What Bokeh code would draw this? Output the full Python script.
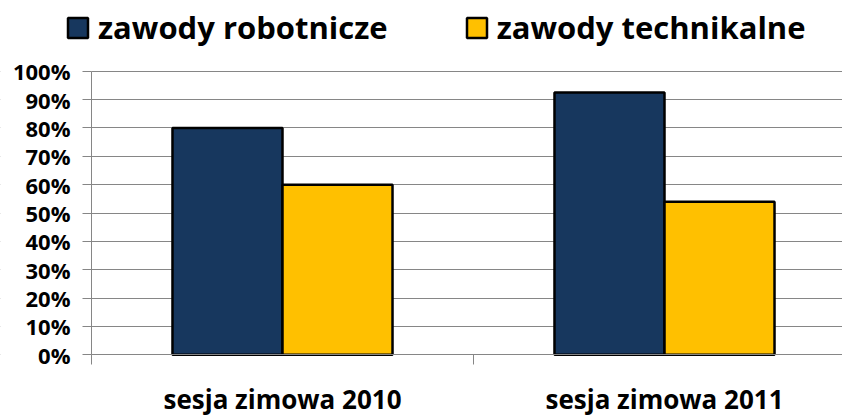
from bokeh.plotting import figure
from bokeh.models import (Range1d, FixedTicker, NumeralTickFormatter, Legend, LegendItem,
                          ColumnDataSource, BoxAnnotation)
from bokeh.embed import file_html
from bokeh.resources import INLINE

categories = ["sesja zimowa 2010", "sesja zimowa 2011"]
series_names = ["zawody robotnicze", "zawody technikalne"]
robotnicze = [0.80, 0.925]
technikalne = [0.60, 0.54]
y_ticks = [0.0, 0.1, 0.2, 0.3, 0.4, 0.5, 0.6, 0.7, 0.8, 0.9, 1.0]

colors = ["#17375E", "#FFC000"]
FONT = "Open Sans"
bar_w = 0.288
W, H = 842, 418
CAT_PX = 382.0      # pixel width of one category slot
AXIS_X = 91.0       # pixel position of the value axis
BASE_Y = 354.3      # pixel position of the 0% line
UNIT_PX = 283.6     # pixels for 100%

centers = [i + 0.5 for i in range(len(categories))]

p = figure(width=W, height=H, output_backend="svg", toolbar_location=None,
           x_range=Range1d(-AXIS_X / CAT_PX, (W - AXIS_X) / CAT_PX),
           y_range=Range1d(-(H - BASE_Y) / UNIT_PX, BASE_Y / UNIT_PX),
           min_border_left=0, min_border_right=0, min_border_top=0, min_border_bottom=0)
p.outline_line_color = None
p.background_fill_color = "white"
p.border_fill_color = "white"

# white mask so the horizontal gridlines start at the value axis
p.add_layout(BoxAnnotation(right=0, fill_color="white", fill_alpha=1.0,
                           line_color=None, level="underlay"))

src1 = ColumnDataSource(dict(x=[c - bar_w / 2 for c in centers], top=robotnicze))
src2 = ColumnDataSource(dict(x=[c + bar_w / 2 for c in centers], top=technikalne))
r1 = p.vbar(x="x", top="top", width=bar_w, source=src1, fill_color=colors[0],
            line_color="black", line_width=2.5)
r2 = p.vbar(x="x", top="top", width=bar_w, source=src2, fill_color=colors[1],
            line_color="black", line_width=2.5)

# y axis (drawn at x = 0 inside the frame)
p.yaxis.fixed_location = 0
p.yaxis.ticker = FixedTicker(ticks=y_ticks)
p.yaxis.bounds = (0, 1)
p.yaxis.formatter = NumeralTickFormatter(format="0%")
p.yaxis.axis_line_color = "#868686"
p.yaxis.major_tick_line_color = "#868686"
p.yaxis.major_tick_out = 9
p.yaxis.major_tick_in = 0
p.yaxis.minor_tick_line_color = None
p.yaxis.major_label_standoff = 12
p.yaxis.major_label_text_font = FONT
p.yaxis.major_label_text_font_style = "bold"
p.yaxis.major_label_text_font_size = "22px"
p.yaxis.major_label_text_color = "black"

# x axis (drawn at y = 0 inside the frame)
p.xaxis.fixed_location = 0
p.xaxis.ticker = FixedTicker(ticks=centers, minor_ticks=[0, 1, 2])
p.xaxis.bounds = (0, len(categories))
p.xaxis.major_label_overrides = {c: lab for c, lab in zip(centers, categories)}
p.xaxis.axis_line_color = "#868686"
p.xaxis.major_tick_line_color = None
p.xaxis.minor_tick_line_color = "#868686"
p.xaxis.minor_tick_out = 10
p.xaxis.minor_tick_in = 0
p.xaxis.major_label_standoff = 16
p.xaxis.major_label_text_font = FONT
p.xaxis.major_label_text_font_style = "bold"
p.xaxis.major_label_text_font_size = "26px"
p.xaxis.major_label_text_color = "black"

p.xgrid.grid_line_color = None
p.ygrid.ticker = FixedTicker(ticks=y_ticks)
p.ygrid.grid_line_color = "#868686"
p.ygrid.grid_line_width = 1

legend = Legend(items=[LegendItem(label=series_names[0], renderers=[r1]),
                       LegendItem(label=series_names[1], renderers=[r2])],
                orientation="horizontal", location=(65, H - 48),
                label_text_font=FONT, label_text_font_style="bold",
                label_text_font_size="31px", label_text_color="black",
                glyph_width=25, glyph_height=25, label_standoff=8, spacing=76,
                padding=0, margin=0, border_line_color=None,
                background_fill_alpha=0)
p.add_layout(legend, "center")

open("out.html", "w").write(file_html(p, INLINE))
